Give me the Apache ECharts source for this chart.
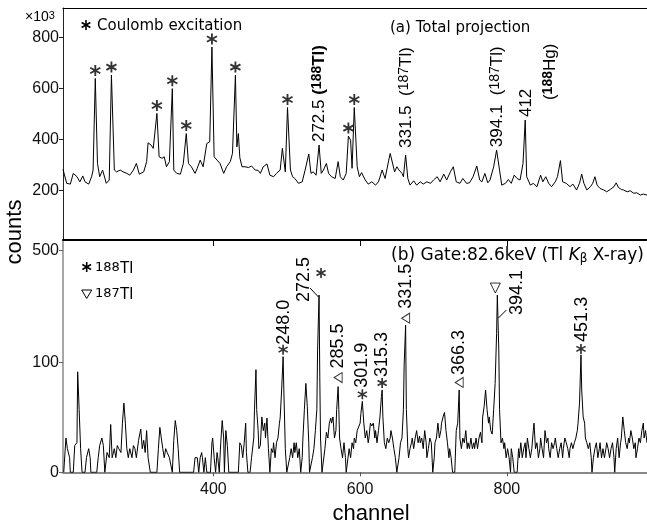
<!DOCTYPE html>
<html><head><meta charset="utf-8">
<script src="https://cdn.jsdelivr.net/npm/echarts@6/dist/echarts.min.js"></script>
<style>html,body{margin:0;padding:0;background:#fff;}#c{width:647px;height:529px;}</style>
</head><body><div id="c"></div>
<script>
// ---------- DATA ----------
const xTicks = [400, 600, 800];
const topYTicks = [200, 400, 600, 800];
const botYTicks = [0, 100, 500];

// (a) total projection: channel / counts (x10^3)
const topChannels = [
195,200,205,209,214,218,222,225,230,234,
236,239,242,245,249,254,258,261,265,268,
273,277,282,286,291,295,299,305,309,311,
315,318,323,326,330,333,336,340,344,346,
350,355,359,363,366,370,375,378,382,386,
391,395,398,401,405,409,414,418,423,426,
430,432,434,436,439,443,448,452,457,461,
464,468,473,477,482,486,491,494,498,501,
505,508,511,516,521,525,530,533,536,540,
544,547,550,554,557,561,566,570,573,577,
581,584,587,589,592,596,599,602,607,611,
616,621,625,630,634,639,641,643,647,650,
653,657,659,662,665,668,673,677,682,686,
691,696,700,705,709,714,718,723,727,731,
736,740,745,749,754,759,763,766,770,774,
777,782,786,790,793,798,802,806,810,814,
818,822,825,827,832,836,841,846,849,853,
857,861,866,869,873,876,881,886,890,895,
899,902,905,909,914,917,920,923,927,932,
936,941,946,949,952,956,959,964,968,973,
977,982,986,991];
const topCounts = [
284,229,226,268,255,235,258,235,226,255,
281,640,307,255,281,229,242,653,281,274,
281,274,268,261,281,307,265,274,314,388,
379,366,503,333,327,333,294,314,600,281,
268,265,307,424,307,294,268,288,320,294,
385,392,763,333,320,307,268,294,314,346,
653,372,424,330,294,294,291,297,281,280,
268,294,305,261,255,268,281,366,274,526,
281,255,248,229,235,281,344,268,274,261,
379,268,281,307,268,255,248,314,255,242,
268,414,398,288,526,294,255,271,242,226,
235,222,235,281,248,320,346,340,274,294,
281,268,255,340,248,222,239,222,235,226,
235,229,242,255,235,265,242,274,294,235,
229,248,229,231,255,297,242,235,268,231,
242,294,359,281,222,229,244,229,261,248,
242,307,477,255,222,229,216,261,235,255,
229,216,235,255,318,235,229,216,226,203,
229,265,229,203,216,229,255,222,209,203,
196,205,216,231,213,205,203,196,200,190,
192,183,187,183];

// (b) gated spectrum: channel / counts
const botChannels = [
196,199,201,204,205,209,211,214,215,217,
219,221,225,227,230,232,233,241,243,245,
248,250,252,255,258,260,262,265,267,269,
271,274,276,278,280,282,284,286,289,291,
293,295,298,301,303,305,307,309,311,314,
323,325,327,329,331,333,335,337,340,342,
344,346,348,350,352,354,373,375,376,378,
380,382,384,385,387,389,391,396,398,399,
401,403,405,406,408,410,412,414,415,417,
419,421,434,436,438,440,442,444,445,447,
450,452,455,456,458,459,461,462,464,466,
468,470,471,473,475,477,479,481,482,484,
486,488,490,491,493,495,496,498,500,502,
504,506,508,510,511,513,515,517,519,521,
522,524,526,528,530,531,533,535,537,539,
541,542,544,545,546,548,550,552,554,556,
558,560,561,563,565,567,568,570,571,572,
574,576,578,580,581,583,585,587,589,591,
592,594,596,598,600,601,603,605,607,609,
611,612,614,616,618,620,621,623,625,627,
629,630,631,633,635,637,639,641,642,644,
646,648,650,651,653,655,657,659,660,662,
663,665,666,668,670,671,673,675,677,679,
681,682,684,686,688,690,691,693,695,697,
699,701,702,704,706,708,710,711,713,715,
717,719,721,722,724,726,727,729,731,733,
735,736,738,740,742,744,746,747,749,751,
753,755,756,758,760,762,764,766,767,769,
771,773,775,776,778,780,782,784,786,787,
789,790,792,794,796,797,799,801,803,805,
806,808,810,814,816,817,819,821,823,825,
826,828,830,832,834,836,837,839,841,843,
845,846,848,850,852,854,856,857,859,861,
863,865,866,868,870,872,874,876,877,879,
881,883,885,886,888,890,892,894,896,897,
899,901,902,904,906,907,909,911,913,915,
916,918,920,922,924,926,927,929,931,933,
935,936,938,940,942,944,946,947,949,951,
953,955,956,958,960,962,964,966,967,969,
971,973,975,976,978,980,982,984,986,987,
989,991];
const botCounts = [
0,7,3,1,0,0,4,5,82,28,
3,0,0,1,3,1,0,0,1,4,
7,4,0,2,1,15,1,3,1,4,
3,2,16,35,16,3,1,3,1,4,
3,1,6,12,3,6,2,11,1,0,
0,3,13,7,3,1,3,2,1,1,
0,6,18,11,3,0,0,1,1,1,
0,1,2,1,0,1,0,0,5,7,
1,0,2,1,0,5,18,7,0,11,
4,0,0,5,4,1,5,16,2,0,
0,1,7,28,86,28,11,3,4,21,
11,16,7,20,3,0,3,2,5,1,
5,7,16,20,52,113,52,3,0,0,
1,3,1,5,2,5,1,3,0,1,
7,28,62,31,5,0,0,1,3,11,
28,128,300,73,7,0,0,3,10,7,
16,20,16,21,7,11,28,57,28,7,
3,1,5,1,0,0,3,1,5,3,
7,5,11,11,16,24,37,16,7,11,
5,7,16,14,16,7,11,5,11,21,
43,52,21,5,3,7,5,7,11,7,
3,1,0,0,1,5,7,28,95,196,
28,3,1,3,5,7,3,7,11,5,
8,5,7,3,11,5,1,3,7,5,
0,1,5,7,16,7,11,16,21,25,
11,5,1,3,1,0,0,0,11,16,
52,7,3,7,5,11,3,5,3,7,
3,5,3,7,3,7,10,5,21,31,
52,28,16,21,11,9,28,62,172,300,
128,28,5,7,3,5,1,3,1,0,
3,1,0,0,3,1,5,1,3,5,
1,7,3,1,3,11,16,3,5,1,
3,7,3,1,11,5,7,3,1,5,
3,5,7,3,1,3,5,1,3,7,
5,3,1,3,5,3,5,7,11,16,
35,117,52,21,16,7,5,3,5,1,
0,1,3,5,1,3,5,1,3,1,
3,5,3,1,3,5,1,0,3,7,
1,5,7,21,11,5,3,7,5,11,
7,3,5,1,3,7,5,11,16,7,
11,5];

// peak annotations
const topStarChannels = [239, 261, 323, 344, 363, 398, 430, 501, 584, 592];
const topLabelChannels = [544, 662, 786, 825];
const topLabelEnergies = ['272.5', '331.5', '394.1', '412'];
const topLabelMasses = ['188', '187', '187', '188'];
const topLabelElements = ['Tl', 'Tl', 'Tl', 'Hg'];

const botLabelChannels = [495, 544, 570, 603, 630, 662, 735, 787, 901];
const botLabelEnergies = ['248.0','272.5','285.5','301.9','315.3','331.5','366.3','394.1','451.3'];
const botLabelMasses = [188, 188, 187, 188, 188, 187, 187, 187, 188];

// ---------- HELPERS ----------
const FONT = 'Liberation Sans, Arial, sans-serif';
const WFONT = 'DejaVu Sans, sans-serif';
const P = 0.4375;                       // power scale of panel (b)
const T = v => Math.pow(v / 100, P);
const Tinv = t => 100 * Math.pow(t, 1 / P);
const BOT_MAX = 2.1195;
const valAt = (chs, vals, c) => vals[chs.indexOf(c)];
const STAR = 'path://M8.4 0L11.6 0L11.6 20L8.4 20ZM0.54 6.39L2.14 3.61L19.46 13.61L17.86 16.39ZM17.86 3.61L19.46 6.39L2.14 16.39L0.54 13.61Z';

const topData = topChannels.map((c, i) => [c, topCounts[i]]);
const botData = botChannels.map((c, i) => [c, T(botCounts[i])]);

// layout for panel (b) markers / labels (pixel offsets from peak tip)
const botMarkerOff = [[0,-7],[2,-22],[0,-9],[0,-7],[0,-7],[0,-7],[0,-7.5],[-2,-7],[0,-6]];
const botTextOff = [[1,-12],[-15.5,7],[0,-18],[0,-13.5],[0,-13],[0,-16.5],[0,-15],[19.5,20],[1,-13]];
const topTextOff = [[0,-3],[1,-7],[1,-3],[1,-3]];

const botStars = [], botTris = [];
botLabelChannels.forEach((c, i) => {
  const v = T(valAt(botChannels, botCounts, c));
  if (botLabelMasses[i] === 188) {
    botStars.push({value: [c, v], symbolOffset: botMarkerOff[i]});
  } else {
    const down = botLabelEnergies[i] === '394.1';
    botTris.push({value: [c, v], symbolOffset: botMarkerOff[i],
      symbolRotate: down ? 180 : 90, symbolSize: down ? [10, 10] : [10, 8]});
  }
});

const axisLab = {fontSize: 16, fontFamily: FONT, color: '#111'};

const option = {
  animation: false,
  backgroundColor: '#fff',
  grid: [
    {left: 63, top: 8, right: 0, height: 232},
    {left: 63, top: 240, right: 0, height: 232.3}
  ],
  xAxis: [
    {gridIndex: 0, type: 'value', min: 195, max: 991, position: 'bottom',
     axisLine: {show: true, onZero: false, lineStyle: {color: '#000', width: 2}},
     axisTick: {show: true, length: 6, customValues: xTicks, lineStyle: {color: '#000', width: 1}},
     axisLabel: {show: false}, splitLine: {show: false}},
    {gridIndex: 0, type: 'value', min: 195, max: 991, position: 'top',
     axisLine: {show: true, onZero: false, lineStyle: {color: '#000', width: 1.2}},
     axisTick: {show: false}, axisLabel: {show: false}, splitLine: {show: false}},
    {gridIndex: 1, type: 'value', min: 195, max: 991, position: 'bottom',
     axisLine: {show: true, onZero: false, lineStyle: {color: '#888', width: 2}},
     axisTick: {show: true, length: 4, customValues: xTicks, lineStyle: {color: '#555'}},
     axisLabel: Object.assign({customValues: xTicks, margin: 9}, axisLab),
     splitLine: {show: false}}
  ],
  yAxis: [
    {gridIndex: 0, type: 'value', min: 7, max: 916,
     axisLine: {show: true, onZero: false, lineStyle: {color: '#222', width: 1}},
     axisTick: {show: true, length: 4, customValues: topYTicks, lineStyle: {color: '#222'}},
     axisLabel: Object.assign({customValues: topYTicks, margin: 4}, axisLab),
     splitLine: {show: false}},
    {gridIndex: 1, type: 'value', min: 0, max: BOT_MAX,
     axisLine: {show: true, onZero: false, lineStyle: {color: '#888', width: 1.5}},
     axisTick: {show: true, length: 4, customValues: botYTicks.map(T), lineStyle: {color: '#666'}},
     axisLabel: Object.assign({customValues: botYTicks.map(T), margin: 4,
       formatter: t => String(Math.round(Tinv(t)))}, axisLab),
     splitLine: {show: false}}
  ],
  series: [
    {type: 'line', xAxisIndex: 0, yAxisIndex: 0, data: topData, symbol: 'none', silent: true,
     lineStyle: {color: '#000', width: 1}, z: 3},
    {type: 'line', xAxisIndex: 2, yAxisIndex: 1, data: botData, symbol: 'none', silent: true,
     lineStyle: {color: '#000', width: 1}, z: 3},
    {type: 'scatter', xAxisIndex: 0, yAxisIndex: 0, silent: true, z: 5,
     data: topStarChannels.map(c => [c, valAt(topChannels, topCounts, c)]),
     symbol: STAR, symbolSize: 11, symbolOffset: [0, -8], itemStyle: {color: '#000'}},
    {type: 'scatter', xAxisIndex: 2, yAxisIndex: 1, silent: true, z: 5,
     data: botStars, symbol: STAR, symbolSize: 10, itemStyle: {color: '#000'}},
    {type: 'scatter', xAxisIndex: 2, yAxisIndex: 1, silent: true, z: 5,
     data: botTris, symbol: 'triangle', itemStyle: {color: '#fff', borderColor: '#000', borderWidth: 1}}
  ]
};

const chart = echarts.init(document.getElementById('c'), null, {renderer: 'canvas'});
chart.setOption(option);

// ---------- ANNOTATIONS ----------
const toTop = (c, v) => chart.convertToPixel({xAxisIndex: 0, yAxisIndex: 0}, [c, v]);
const toBot = (c, v) => chart.convertToPixel({xAxisIndex: 2, yAxisIndex: 1}, [c, T(v)]);
const g = [];
const rot = (x, y, text, rich) => ({type: 'text', x, y, rotation: Math.PI / 2, silent: true, z: 10,
  style: {text, rich, fill: '#000', align: 'left', verticalAlign: 'middle', fontSize: 17, fontFamily: FONT}});

// asterisk glyph made of three bars (legend use)
function starGlyph(cx, cy, size) {
  const L = size / 2, w = size * 0.08;
  const bars = [90, 30, 150].map(a => {
    const r = a * Math.PI / 180, dx = Math.cos(r), dy = Math.sin(r), px = -dy * w, py = dx * w;
    return {type: 'polygon', silent: true, shape: {points: [
      [cx + dx * L + px, cy + dy * L + py], [cx + dx * L - px, cy + dy * L - py],
      [cx - dx * L - px, cy - dy * L - py], [cx - dx * L + px, cy - dy * L + py]]},
      style: {fill: '#000'}};
  });
  return {type: 'group', silent: true, children: bars};
}

const richTop = {
  n: {fontSize: 17, fontFamily: FONT, lineHeight: 18},
  s: {fontSize: 14, fontFamily: FONT, lineHeight: 12, verticalAlign: 'top'},
  b: {fontSize: 17, fontFamily: FONT, fontWeight: 'bold', lineHeight: 18},
  bs: {fontSize: 14, fontFamily: FONT, fontWeight: 'bold', lineHeight: 12, verticalAlign: 'top'}
};
topLabelChannels.forEach((c, i) => {
  const p = toTop(c, valAt(topChannels, topCounts, c));
  const [dx, dy] = topTextOff[i];
  let txt;
  if (i === 0) txt = '{n|' + topLabelEnergies[i] + ' }{b|(}{bs|' + topLabelMasses[i] + '}{b|' + topLabelElements[i] + ')}';
  else if (i === 3) txt = '{n|' + topLabelEnergies[i] + '}';
  else txt = '{n|' + topLabelEnergies[i] + '  (}{s|' + topLabelMasses[i] + '}{n|' + topLabelElements[i] + ')}';
  g.push(rot(p[0] + dx, p[1] + dy, txt, richTop));
  if (i === 3) {
    g.push(rot(p[0] + 25, p[1] - 20, '{n|(}{bs|' + topLabelMasses[i] + '}{n|' + topLabelElements[i] + ')}', richTop));
  }
});

const richBot = {n: {fontSize: 18, fontFamily: FONT, lineHeight: 18}};
botLabelChannels.forEach((c, i) => {
  const p = toBot(c, valAt(botChannels, botCounts, c));
  const [dx, dy] = botTextOff[i];
  g.push(rot(p[0] + dx, p[1] + dy, '{n|' + botLabelEnergies[i] + '}', richBot));
  if (botLabelEnergies[i] === '272.5') {
    g.push({type: 'line', silent: true, z: 10, shape: {x1: p[0] - 0.5, y1: p[1] + 2, x2: p[0] - 9, y2: p[1] - 7},
      style: {stroke: '#000', lineWidth: 1}});
  }
  if (botLabelEnergies[i] === '394.1') {
    g.push({type: 'line', silent: true, z: 10, shape: {x1: p[0] + 1, y1: p[1] + 23, x2: p[0] + 9, y2: p[1] + 15},
      style: {stroke: '#000', lineWidth: 1}});
  }
});

// fixed texts
g.push({type: 'text', x: 25, y: 17, silent: true, style: {text: '{a|×10}{s|3}', fill: '#000', align: 'left', verticalAlign: 'middle',
  rich: {a: {fontSize: 14, fontFamily: FONT, lineHeight: 14}, s: {fontSize: 11, fontFamily: FONT, lineHeight: 10, verticalAlign: 'top'}}}});
g.push(starGlyph(86, 25, 10));
g.push({type: 'text', x: 97, y: 26, silent: true, style: {text: 'Coulomb excitation', fill: '#000', fontSize: 15, fontFamily: WFONT, align: 'left', verticalAlign: 'middle'}});
g.push({type: 'text', x: 390, y: 28, silent: true, style: {text: '(a) Total projection', fill: '#000', fontSize: 15, fontFamily: WFONT, align: 'left', verticalAlign: 'middle'}});
g.push({type: 'text', x: 391, y: 256, silent: true, style: {
  text: '{a|(b) Gate:82.6keV (Tl }{i|K}{sub|β}{a| X-ray)}', fill: '#000', align: 'left', verticalAlign: 'middle',
  rich: {a: {fontSize: 17, fontFamily: WFONT, lineHeight: 17, verticalAlign: 'top'},
         i: {fontSize: 17, fontFamily: WFONT, fontStyle: 'italic', lineHeight: 17, verticalAlign: 'top'},
         sub: {fontSize: 12, fontFamily: WFONT, lineHeight: 12, padding: [12, 0, 0, 0], verticalAlign: 'bottom'}}}});
// legend in panel (b)
g.push(starGlyph(86.7, 267, 10));
g.push({type: 'text', x: 95, y: 269, silent: true, style: {text: '{s|188}{a|Tl}', fill: '#000', align: 'left', verticalAlign: 'middle',
  rich: {a: {fontSize: 16, fontFamily: FONT, lineHeight: 16}, s: {fontSize: 13, fontFamily: WFONT, lineHeight: 11, verticalAlign: 'top'}}}});
g.push({type: 'polygon', silent: true, shape: {points: [[81.7, 290], [91.7, 290], [86.7, 298.5]]}, style: {fill: '#fff', stroke: '#000', lineWidth: 1}});
g.push({type: 'text', x: 95, y: 295, silent: true, style: {text: '{s|187}{a|Tl}', fill: '#000', align: 'left', verticalAlign: 'middle',
  rich: {a: {fontSize: 16, fontFamily: FONT, lineHeight: 16}, s: {fontSize: 13, fontFamily: WFONT, lineHeight: 11, verticalAlign: 'top'}}}});
// axis titles
g.push({type: 'text', x: 15, y: 232, rotation: Math.PI / 2, silent: true, style: {text: 'counts', fill: '#000', fontSize: 22, fontFamily: FONT, align: 'center', verticalAlign: 'middle'}});
g.push({type: 'text', x: 371, y: 514, silent: true, style: {text: 'channel', fill: '#000', fontSize: 22, fontFamily: FONT, align: 'center', verticalAlign: 'middle'}});

chart.setOption({graphic: g});
</script></body></html>
